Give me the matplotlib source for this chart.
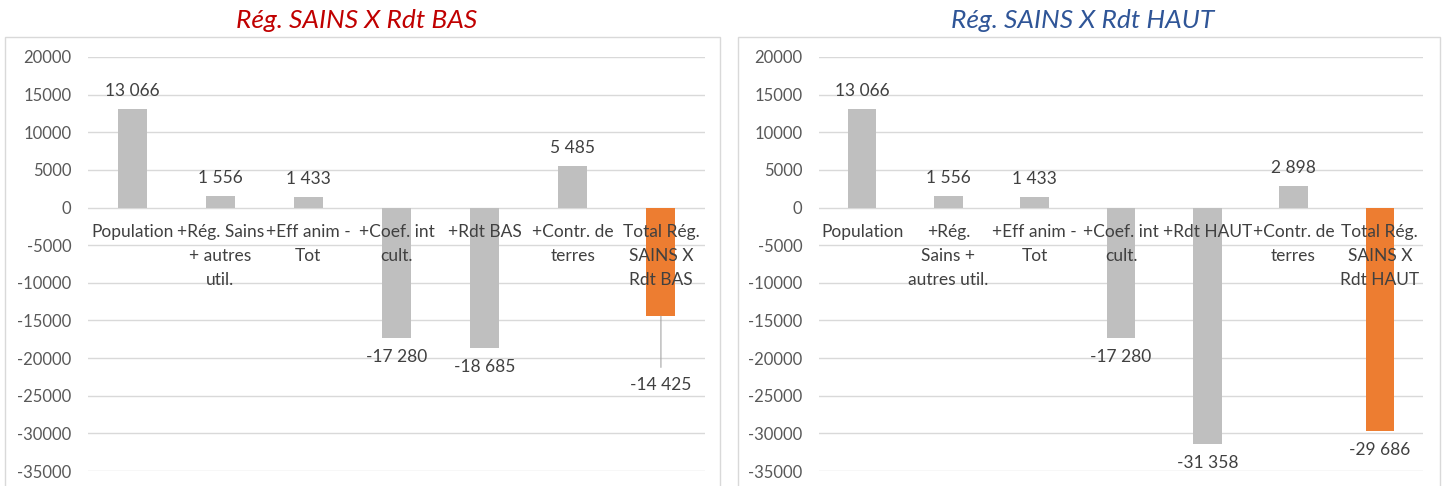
import matplotlib
matplotlib.use("Agg")
import matplotlib.pyplot as plt
from matplotlib.patches import Rectangle

plt.rcParams['font.family'] = ['Lato', 'DejaVu Sans']

cats_left = ["Population", "+Rég. Sains\n+ autres\nutil.", "+Eff anim -\nTot", "+Coef. int\ncult.",
             "+Rdt BAS", "+Contr. de\nterres", "Total Rég.\nSAINS X\nRdt BAS"]
vals_left = [13066, 1556, 1433, -17280, -18685, 5485, -14425]

cats_right = ["Population", "+Rég.\nSains +\nautres util.", "+Eff anim -\nTot", "+Coef. int\ncult.",
              "+Rdt HAUT", "+Contr. de\nterres", "Total Rég.\nSAINS X\nRdt HAUT"]
vals_right = [13066, 1556, 1433, -17280, -31358, 2898, -29686]

title_left = "Rég. SAINS X Rdt BAS"
title_right = "Rég. SAINS X Rdt HAUT"
yticks = list(range(-35000, 20001, 5000))

GRAY = "#BFBFBF"
ORANGE = "#ED7D31"
TXT = "#404040"
GRID = "#D9D9D9"
FS = 12.5

W, H = 1443, 486
fig = plt.figure(figsize=(W / 100, H / 100), dpi=100)

def fmt(v):
    return f"{v:,}".replace(",", " ")

def panel(box, axrect, cats, vals, title, tcolor, leader_last):
    bx0, bx1 = box
    fig.patches.append(Rectangle((bx0 / W, -0.1), (bx1 - bx0) / W, 1.1 - 37 / H,
                                 transform=fig.transFigure, fill=False,
                                 edgecolor=GRID, linewidth=1.0))
    x0, x1 = axrect
    ax = fig.add_axes([x0 / W, 1 - 471 / H, (x1 - x0) / W, (471 - 57) / H])
    ax.set_ylim(-35000, 20000)
    ax.set_xlim(-0.5, len(cats) - 0.5)
    colors = [GRAY] * (len(vals) - 1) + [ORANGE]
    xs = list(range(len(cats)))
    ax.bar(xs, vals, width=0.33, color=colors, zorder=2)
    ax.set_yticks(yticks)
    ax.set_yticklabels([str(t) for t in yticks], fontsize=12, color="#595959")
    ax.tick_params(axis='y', length=0, pad=12)
    ax.set_xticks([])
    ax.grid(axis='y', color=GRID, linewidth=1.0, zorder=0)
    for s in ax.spines.values():
        s.set_visible(False)
    for i, (c, v) in enumerate(zip(cats, vals)):
        ax.annotate(c, (i, 0), xytext=(0, -16), textcoords='offset pixels',
                    ha='center', va='top', fontsize=FS, color=TXT,
                    linespacing=1.62, zorder=5)
        if i == len(vals) - 1 and leader_last:
            ax.annotate(fmt(v), (i, v), xytext=(0, -69), textcoords='offset pixels',
                        ha='center', va='center', fontsize=FS, color=TXT,
                        arrowprops=dict(arrowstyle='-', color='#A6A6A6', lw=0.8,
                                        shrinkA=5, shrinkB=0), zorder=5)
        else:
            off = 18 if v > 0 else -19
            ax.annotate(fmt(v), (i, v), xytext=(0, off), textcoords='offset pixels',
                        ha='center', va='center', fontsize=FS, color=TXT, zorder=5)
    fig.text(((bx0 + bx1) / 2 - 6) / W, 1 - 20 / H, title, ha='center', va='center',
             fontsize=19, style='italic', color=tcolor)
    return ax

panel((5, 720), (88, 705), cats_left, vals_left, title_left, "#C00000", True)
panel((738, 1440), (819, 1423), cats_right, vals_right, title_right, "#2F5597", False)

fig.savefig("out.png", dpi=100)
